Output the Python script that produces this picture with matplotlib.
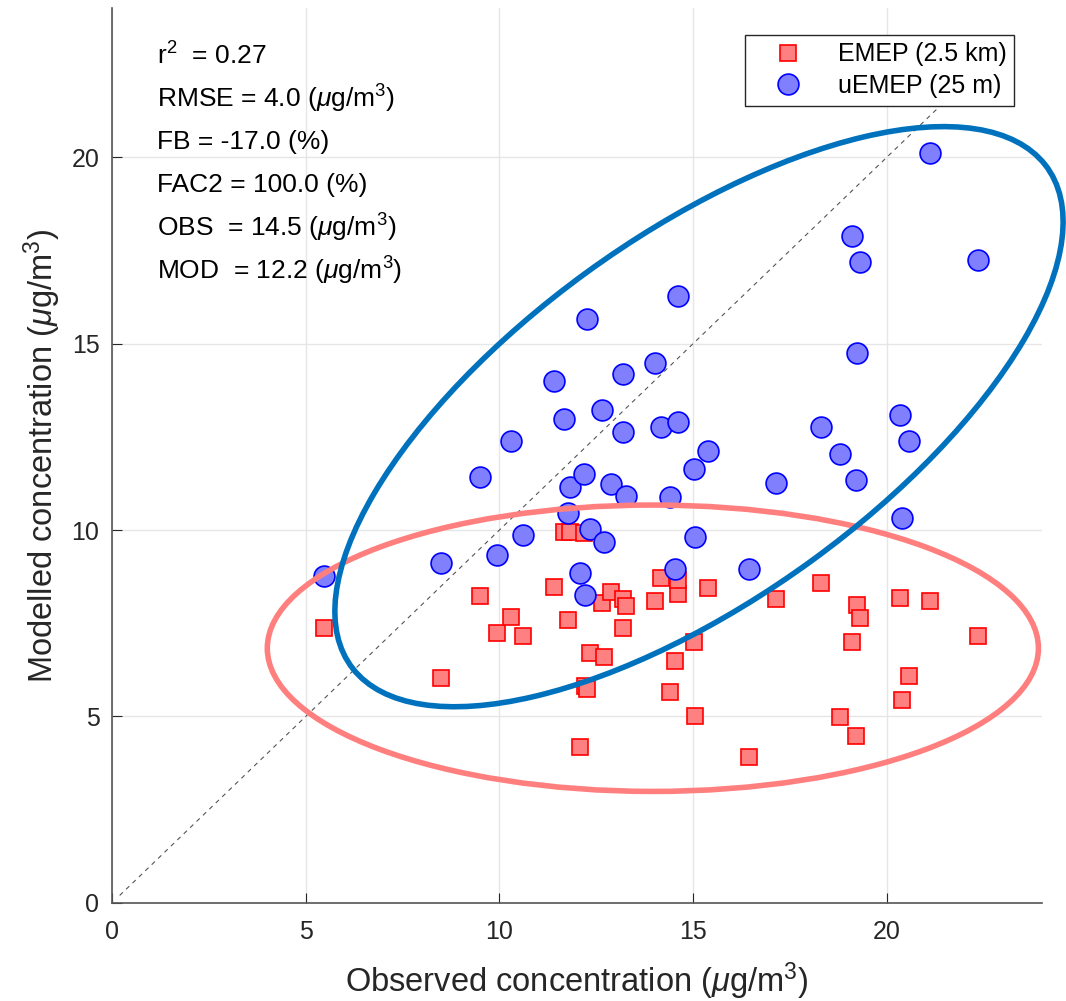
import matplotlib
matplotlib.use('Agg')
import matplotlib.pyplot as plt
from matplotlib.patches import Ellipse

plt.rcParams['font.family'] = ['Liberation Sans', 'DejaVu Sans']
plt.rcParams['mathtext.fontset'] = 'custom'
plt.rcParams['mathtext.rm'] = 'Liberation Sans'
plt.rcParams['mathtext.it'] = 'Liberation Sans:italic'

# Dados: concentracao observada e modelada (ug/m3)
observado = [5.47, 8.50, 9.51, 9.95, 10.29, 10.60, 11.42, 11.67, 11.76, 11.82,
             12.08, 12.17, 12.22, 12.25, 12.34, 12.66, 12.69, 12.88, 13.19, 13.19,
             13.27, 14.02, 14.18, 14.40, 14.53, 14.61, 14.61, 15.01, 15.04, 15.39,
             16.44, 17.15, 18.29, 18.78, 19.11, 19.21, 19.24, 19.31, 20.35, 20.38,
             20.58, 21.11, 22.35]
emep = [7.36, 6.03, 8.24, 7.25, 7.68, 7.15, 8.48, 9.95, 7.60, 9.95,
        4.19, 9.92, 5.81, 5.73, 6.69, 8.05, 6.59, 8.35, 7.36, 8.16,
        7.97, 8.11, 8.72, 5.65, 6.48, 8.29, 8.67, 7.01, 5.01, 8.45,
        3.92, 8.16, 8.59, 4.99, 6.99, 4.48, 8.00, 7.65, 8.19, 5.44,
        6.08, 8.11, 7.15]
uemep = [8.77, 9.12, 11.41, 9.33, 12.40, 9.87, 14.00, 12.99, 10.45, 11.15,
         8.85, 11.49, 8.27, 15.65, 10.03, 13.23, 9.68, 11.23, 14.19, 12.64,
         10.91, 14.48, 12.77, 10.88, 8.96, 16.27, 12.91, 11.65, 9.81, 12.13,
         8.96, 11.25, 12.77, 12.03, 17.89, 11.33, 14.75, 17.20, 13.09, 10.32,
         12.40, 20.11, 17.25]

estatisticas = ['r$^2$  = 0.27',
                'RMSE = 4.0 ($\\mu$g/m$^3$)',
                'FB = -17.0 (%)',
                'FAC2 = 100.0 (%)',
                'OBS  = 14.5 ($\\mu$g/m$^3$)',
                'MOD  = 12.2 ($\\mu$g/m$^3$)']

cor_texto = '#262626'

fig = plt.figure(figsize=(10.66, 10.01), dpi=100)
ax = fig.add_axes([0.105, 0.098, 0.8724, 0.894])

# linha 1:1
ax.plot([0.2, 23], [0.2, 23], linestyle=(0, (4, 4)), color='#555555', linewidth=0.8, zorder=2)

ax.plot(observado, emep, 's', markersize=12, markerfacecolor='#FF8080',
        markeredgecolor='#FF0000', markeredgewidth=1.2, label='EMEP (2.5 km)', zorder=3)
ax.plot(observado, uemep, 'o', markersize=15, markerfacecolor='#8080FF',
        markeredgecolor='#0000FF', markeredgewidth=1.2, label='uEMEP (25 m)', zorder=4)

# Elipses
ax.add_patch(Ellipse((13.96, 6.83), 19.9, 7.68, angle=0, fill=False,
                     edgecolor='#FF7F7F', linewidth=4, zorder=5, clip_on=False))
ax.add_patch(Ellipse((15.15, 13.04), 22.4, 9.67, angle=37.1, fill=False,
                     edgecolor='#0072BD', linewidth=4, zorder=5, clip_on=False))

for i, txt in enumerate(estatisticas):
    ax.text(0.048, 0.946 - i * 0.048, txt, transform=ax.transAxes,
            fontsize=19, va='center', ha='left', color='black')

ax.set_xlim(0, 24)
ax.set_ylim(0, 24)
ax.set_xticks([0, 5, 10, 15, 20])
ax.set_yticks([0, 5, 10, 15, 20])
ax.tick_params(direction='in', length=7, labelsize=18, colors=cor_texto)
ax.tick_params(axis='x', pad=12)
ax.tick_params(axis='y', pad=9)
ax.grid(True, color='#E6E6E6', linewidth=1)
ax.set_axisbelow(True)
for s in ['top', 'right']:
    ax.spines[s].set_visible(False)
for s in ['left', 'bottom']:
    ax.spines[s].set_color('#555555')
    ax.spines[s].set_linewidth(1.2)

ax.set_xlabel('Observed concentration ($\\mu$g/m$^3$)', fontsize=23.5, color=cor_texto, labelpad=12)
ax.set_ylabel('Modelled concentration ($\\mu$g/m$^3$)', fontsize=23.5, color=cor_texto, labelpad=6)

leg = ax.legend(loc='upper right', bbox_to_anchor=(1014 / 1066, 1 - 35 / 1001),
                bbox_transform=fig.transFigure, borderaxespad=0, fontsize=18,
                frameon=True, fancybox=False, edgecolor=cor_texto, framealpha=1,
                handlelength=2.8, handletextpad=0.6, borderpad=0.3, labelspacing=0.3)
leg.get_frame().set_linewidth(1)

plt.savefig('out.png', dpi=100)
